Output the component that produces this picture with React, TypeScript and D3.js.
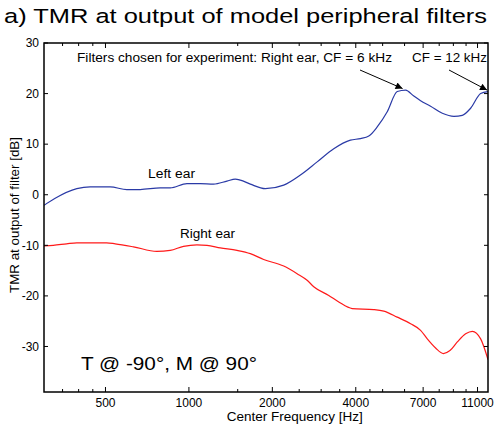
import React from "react";
import * as d3 from "d3";

const leftFreq = [300, 328, 394, 440, 520, 597, 667, 788, 856, 984, 1099, 1227, 1372, 1470, 1533, 1666, 1887, 2198, 2525, 2902, 3331, 3827, 4160, 4458, 4780, 5195, 5645, 6050, 6480, 6854, 7449, 8210, 9044, 9693, 10387, 11290, 12000];
const leftTMR = [-2.1, -0.75, 1.2, 1.55, 1.55, 1.03, 1.03, 1.35, 1.35, 2.2, 2.2, 2.1, 2.7, 3.1, 2.9, 2.1, 1.2, 1.9, 3.9, 6.5, 9.1, 10.8, 11.1, 11.6, 13.4, 16.4, 20.4, 20.7, 19.5, 18.6, 17.5, 16.1, 15.5, 15.7, 17.1, 20.0, 20.4];

const rightFreq = [300, 324, 362, 394, 505, 542, 631, 766, 856, 956, 1069, 1162, 1298, 1491, 1666, 1861, 2198, 2457, 2670, 2821, 3196, 3473, 3882, 4646, 5049, 5645, 6306, 6854, 7246, 7764, 8280, 8749, 9300, 9966, 10535, 11290, 12000];
const rightTMR = [-10.1, -10.0, -9.7, -9.5, -9.5, -9.7, -10.3, -11.2, -11.0, -10.2, -9.9, -10.0, -10.5, -11.0, -11.65, -12.8, -14.1, -15.6, -16.9, -18.2, -19.9, -21.2, -22.5, -22.7, -23.0, -24.2, -25.5, -26.8, -28.5, -30.3, -31.4, -30.8, -29.1, -27.5, -27.0, -28.5, -32.6];

const majorTicks = [500, 1000, 2000, 4000, 7000, 11000];
const minorTicks = [350, 400, 450, 1500, 2500, 3000, 3500, 4500, 5000, 6000, 8000, 9000, 10000];
const yTicks = [30, 20, 10, 0, -10, -20, -30];

const FONT = "'Liberation Sans', Arial, Helvetica, sans-serif";

export default function App() {
  const W = 495, H = 434;
  const L = 44, R = 488, T = 43, B = 392;
  const x = d3.scaleLog().domain([300, 12000]).range([L, R]);
  const y = d3.scaleLinear().domain([-39, 30]).range([B, T]);
  const line = d3.line<number>().curve(d3.curveMonotoneX);
  const leftPath = line(leftFreq.map((f, i) => [x(f), y(leftTMR[i])]) as any);
  const rightPath = line(rightFreq.map((f, i) => [x(f), y(rightTMR[i])]) as any);

  return (
    <div style={{ position: "fixed", left: 0, top: 0 }}>
      <svg width={W} height={H} style={{ display: "block", background: "#fff" }} fontFamily={FONT}>
        <defs>
          <marker id="ah" viewBox="0 0 10 10" refX="10" refY="5" markerWidth="10" markerHeight="7" orient="auto" markerUnits="userSpaceOnUse">
            <path d="M0,0 L10,5 L0,10 z" fill="#000" />
          </marker>
          <clipPath id="plot">
            <rect x={L} y={T} width={R - L} height={B - T} />
          </clipPath>
        </defs>
        <text x={4} y={23} fontSize={20.5} textLength={483} lengthAdjust="spacingAndGlyphs" fill="#000">a) TMR at output of model peripheral filters</text>

        <g clipPath="url(#plot)">
          <path d={leftPath || ""} fill="none" stroke="#2a3aa6" strokeWidth={1.2} />
          <path d={rightPath || ""} fill="none" stroke="#ff1a1a" strokeWidth={1.2} />
        </g>

        {/* frame */}
        <rect x={L} y={T} width={R - L} height={B - T} fill="none" stroke="#000" strokeWidth={1.5} />

        {/* x ticks */}
        {majorTicks.map((t) => (
          <g key={"M" + t}>
            <line x1={x(t)} x2={x(t)} y1={B} y2={B - 5} stroke="#000" strokeWidth={1} />
            <line x1={x(t)} x2={x(t)} y1={T} y2={T + 5} stroke="#000" strokeWidth={1} />
            <text x={x(t)} y={406.5} fontSize={12} textAnchor="middle">{t}</text>
          </g>
        ))}
        {minorTicks.map((t) => (
          <g key={"m" + t}>
            <line x1={x(t)} x2={x(t)} y1={B} y2={B - 3} stroke="#000" strokeWidth={1} />
            <line x1={x(t)} x2={x(t)} y1={T} y2={T + 3} stroke="#000" strokeWidth={1} />
          </g>
        ))}

        {/* y ticks */}
        {yTicks.map((t) => (
          <g key={"y" + t}>
            <line x1={L} x2={L + 4} y1={y(t)} y2={y(t)} stroke="#000" strokeWidth={1} />
            <line x1={R} x2={R - 4} y1={y(t)} y2={y(t)} stroke="#000" strokeWidth={1} />
            <text x={39} y={y(t) + 4.3} fontSize={12} textAnchor="end">{t}</text>
          </g>
        ))}

        <text x={226.7} y={421} fontSize={12} textLength={136} lengthAdjust="spacingAndGlyphs">Center Frequency [Hz]</text>
        <text transform={`translate(18.5,215) rotate(-90)`} fontSize={12.5} textAnchor="middle" textLength={156} lengthAdjust="spacingAndGlyphs">TMR at output of filter [dB]</text>

        <text x={77} y={61.5} fontSize={12.5} textLength={315} lengthAdjust="spacingAndGlyphs">Filters chosen for experiment: Right ear, CF = 6 kHz</text>
        <text x={412} y={61.5} fontSize={12.5} textLength={75} lengthAdjust="spacingAndGlyphs">CF = 12 kHz</text>
        <line x1={360} y1={70} x2={x(5900)} y2={y(20.8) - 1} stroke="#000" strokeWidth={1} markerEnd="url(#ah)" />
        <line x1={449} y1={70} x2={x(12000) - 1} y2={y(20.5) - 1} stroke="#000" strokeWidth={1} markerEnd="url(#ah)" />

        <text x={148} y={178.3} fontSize={12.5} textLength={47} lengthAdjust="spacingAndGlyphs">Left ear</text>
        <text x={180} y={238.3} fontSize={12.5} textLength={55} lengthAdjust="spacingAndGlyphs">Right ear</text>
        <text x={81} y={370} fontSize={19} textLength={176} lengthAdjust="spacingAndGlyphs">T @ -90°, M @ 90°</text>
      </svg>
    </div>
  );
}
